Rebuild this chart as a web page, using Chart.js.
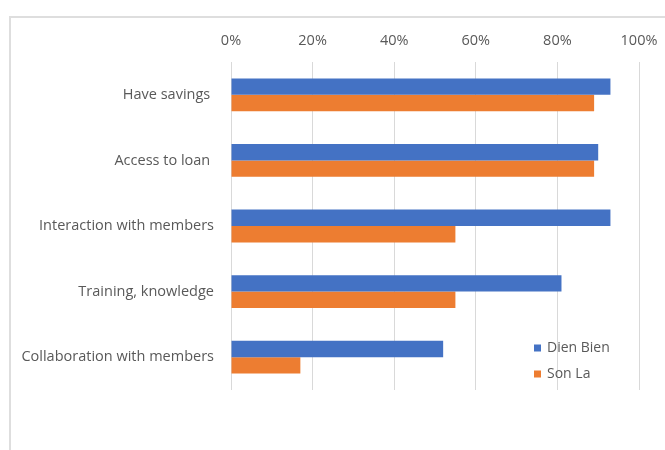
<!DOCTYPE html>
<html>
<head>
<meta charset="utf-8">
<script src="https://cdn.jsdelivr.net/npm/chart.js@4"></script>
<style>
  html, body { margin: 0; padding: 0; background: #ffffff; }
  #wrap { width: 665px; height: 450px; }
</style>
</head>
<body>
<div id="wrap"><canvas id="chart" width="665" height="450"></canvas></div>
<script>
// Survey topics (top to bottom)
const categories = [
  'Have savings ',
  'Access to loan ',
  'Interaction with members',
  'Training, knowledge',
  'Collaboration with members'
];
// Share of respondents, percent
const dienBien = [93, 90, 93, 81, 52];
const sonLa    = [89, 89, 55, 55, 17];
const seriesNames = ['Dien Bien', 'Son La'];
const seriesColors = ['#4472c4', '#ed7d31'];
const tickValues = [0, 20, 40, 60, 80, 100];

const FONT = '"Open Sans", "Liberation Sans", sans-serif';
const TEXT = '#595959';
const FONT_SIZE = 14.5;

// Light frame around the chart object
const framePlugin = {
  id: 'frame',
  beforeDraw(chart) {
    const ctx = chart.ctx;
    ctx.save();
    ctx.strokeStyle = '#dedede';
    ctx.lineWidth = 2;
    ctx.beginPath();
    ctx.moveTo(10, 460);
    ctx.lineTo(10, 17);
    ctx.lineTo(700, 17);
    ctx.stroke();
    ctx.restore();
  }
};

// Legend drawn inside the plot area, lower right
const insideLegend = {
  id: 'insideLegend',
  afterDatasetsDraw(chart) {
    const ctx = chart.ctx;
    const x0 = 534, y0 = 348, gap = 26, box = 7;
    ctx.save();
    ctx.font = '14px ' + FONT;
    ctx.textBaseline = 'middle';
    ctx.textAlign = 'left';
    chart.data.datasets.forEach((ds, i) => {
      const y = y0 + i * gap;
      ctx.fillStyle = ds.backgroundColor;
      ctx.fillRect(x0, y - box / 2, box, box);
      ctx.fillStyle = TEXT;
      ctx.fillText(ds.label, x0 + 13, y);
    });
    ctx.restore();
  }
};

new Chart(document.getElementById('chart'), {
  type: 'bar',
  data: {
    labels: categories,
    datasets: [
      { label: seriesNames[0], data: dienBien, backgroundColor: seriesColors[0] },
      { label: seriesNames[1], data: sonLa, backgroundColor: seriesColors[1] }
    ]
  },
  options: {
    indexAxis: 'y',
    responsive: false,
    animation: false,
    devicePixelRatio: 1,
    layout: { padding: { left: 0, top: 0, right: 26, bottom: 60 } },
    datasets: {
      bar: { categoryPercentage: 0.5, barPercentage: 1.0, borderWidth: 0 }
    },
    plugins: {
      legend: { display: false },
      tooltip: { enabled: false }
    },
    scales: {
      x: {
        position: 'top',
        min: 0,
        max: 100,
        afterBuildTicks(scale) {
          scale.ticks = tickValues.map(v => ({ value: v }));
        },
        afterFit(scale) {
          scale.height = 62;
          scale.paddingLeft = 0;
          scale.paddingRight = 0;
        },
        grid: { color: '#d9d9d9', lineWidth: 1, drawTicks: false },
        border: { display: false },
        ticks: {
          padding: 12,
          color: TEXT,
          font: { family: FONT, size: FONT_SIZE },
          callback: v => v + '%'
        }
      },
      y: {
        afterFit(scale) { scale.width = 231; },
        grid: { display: false, drawTicks: false },
        border: { display: false },
        ticks: {
          padding: 17,
          color: TEXT,
          font: { family: FONT, size: FONT_SIZE }
        }
      }
    }
  },
  plugins: [framePlugin, insideLegend]
});
</script>
</body>
</html>
